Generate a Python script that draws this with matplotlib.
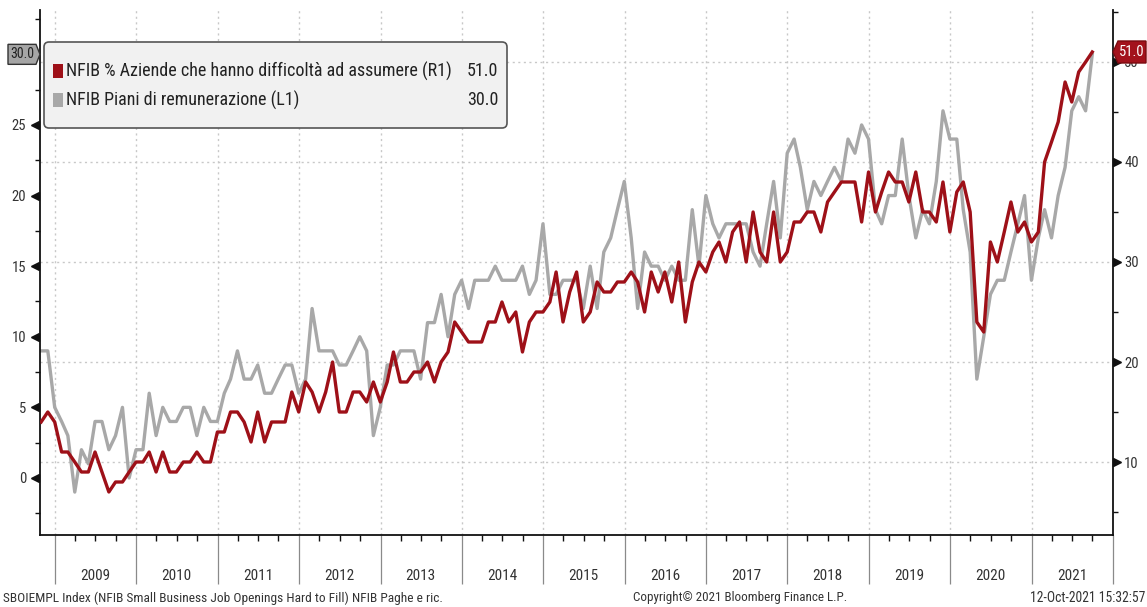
import matplotlib
matplotlib.use("Agg")
import matplotlib.pyplot as plt
import matplotlib.dates as mdates
from matplotlib import font_manager as fm
from matplotlib.patches import FancyBboxPatch, Polygon, Rectangle
from matplotlib.transforms import blended_transform_factory, IdentityTransform
import numpy as np
import pandas as pd

# ---------------- data ----------------
first_month = "2008-10-31"
# NFIB % aziende con posti difficili da coprire (asse destro, R1)
hiring_difficulty = [
    14, 15, 14, 11, 11, 10, 9, 9, 11, 9, 7, 8, 8, 9, 10, 10, 11, 9, 11, 9,
    9, 10, 10, 11, 10, 10, 13, 13, 15, 15, 14, 12, 15, 12, 14, 14, 14, 17, 15, 18,
    17, 15, 17, 20, 15, 15, 17, 17, 16, 18, 16, 18, 21, 18, 18,
    19, 19, 20, 18, 20, 21, 24, 23, 22, 22, 22, 24, 24, 26, 24, 25, 21, 24, 25, 25,
    26, 29, 24, 27, 29, 24, 25, 28, 27, 27, 28, 28, 29, 28, 25, 29, 27, 29, 26, 30,
    24, 28, 30, 29, 31, 32, 30, 33, 34, 30, 35, 31, 30, 35, 30,
    31, 34, 34, 35, 35, 33, 36, 37, 38, 38, 38, 34, 39, 35, 37, 39, 38, 38, 36, 39,
    35, 35, 34, 38, 33, 37, 38, 35, 24, 23, 32, 30, 33, 36, 33, 34, 32, 33, 40, 42,
    44, 48, 46, 49, 50, 51,
]
# NFIB piani di remunerazione (asse sinistro, L1)
comp_plans = [
    9, 9, 5, 4, 3, -1, 2, 1, 4, 4, 2, 3, 5, 0, 2, 2, 6, 3, 5, 4,
    4, 5, 5, 3, 5, 4, 4, 6, 7, 9, 7, 7, 8, 6, 6, 7, 8, 8, 6, 7,
    12, 9, 9, 9, 8, 8, 9, 10, 9, 3, 5, 8, 8, 9, 9,
    9, 7, 11, 11, 13, 10, 13, 14, 12, 14, 14, 14, 15, 14, 14, 14, 15, 13, 14, 18, 13,
    13, 14, 14, 14, 12, 15, 12, 16, 17, 19, 21,
    17, 12, 16, 15, 15, 14, 15, 14, 14, 19, 15, 20, 18, 17, 18, 18, 18, 18, 16, 15, 18,
    21, 17, 23, 24, 22, 19, 21, 20, 21, 22, 21, 24, 23, 25, 24, 19, 18, 20, 20, 24,
    20, 17, 19, 18, 21, 26, 24, 24, 19, 16, 7, 10, 13, 14, 14, 16, 18, 20, 14, 17,
    19, 17, 20, 22, 26, 27, 26, 30,
]
years = list(range(2009, 2022))
left_ticks = [0, 5, 10, 15, 20, 25]
right_ticks = [10, 20, 30, 40, 50]
legend_labels = ["NFIB % Aziende che hanno difficoltà ad assumere (R1)",
                 "NFIB Piani di remunerazione (L1)"]
footer_left = "SBOIEMPL Index (NFIB Small Business Job Openings Hard to Fill) NFIB Paghe e ric."
footer_mid = "Copyright\u00a9 2021 Bloomberg Finance L.P."
footer_right = "12-Oct-2021 15:32:57"

RED = "#9e1018"
GRAY = "#a8a8a8"

# ---------------- fonts ----------------
avail = {f.name for f in fm.fontManager.ttflist}
narrow = next((f for f in ["Liberation Sans Narrow", "Roboto Condensed",
                           "Open Sans Condensed", "DejaVu Sans"] if f in avail), "DejaVu Sans")
plt.rcParams["font.family"] = [narrow, "DejaVu Sans"]

# ---------------- figure ----------------
W, H = 1147, 607
fig = plt.figure(figsize=(W / 100, H / 100), dpi=100, facecolor="white")
PL, PR, PB, PT = 40, 1113, 535, 10
ax = fig.add_axes([PL / W, 1 - PB / H, (PR - PL) / W, (PB - PT) / H])
ax2 = ax.twinx()

dates = pd.date_range(first_month, periods=len(comp_plans), freq="ME")
xd = mdates.date2num(dates)

grid_kw = dict(color="#c8c8c8", lw=1.0, ls=(0, (1.5, 2.5)), zorder=0.5)
for yr in years:
    ax.axvline(mdates.date2num(pd.Timestamp(f"{yr}-01-01")), **grid_kw)
htrans = blended_transform_factory(ax.transAxes, ax2.transData)
for r in right_ticks:
    ax.plot([0, 1], [r, r], transform=htrans, **grid_kw)

ax.plot(xd, comp_plans, color=GRAY, lw=2.4, zorder=2)
ax2.plot(xd, hiring_difficulty, color=RED, lw=2.4, zorder=2)

ax.set_xlim(mdates.date2num(pd.Timestamp("2008-10-26")), mdates.date2num(pd.Timestamp("2022-01-01")))
ax.set_ylim(-4.04, 33.14)
ax2.set_ylim(2.7, 55.2)

# spines
for s in ["top", "right"]:
    ax.spines[s].set_visible(False)
for s in ["top", "left", "bottom"]:
    ax2.spines[s].set_visible(False)
for sp in [ax.spines["left"], ax.spines["bottom"], ax2.spines["right"]]:
    sp.set_color("#111111")
    sp.set_linewidth(1.3)

# y ticks
tick_font = 10.5
ax.set_yticks(left_ticks)
ax.set_yticks(np.arange(-2.5, 33, 5), minor=True)
ax.tick_params(axis="y", which="major", length=0, pad=10, labelsize=tick_font, labelcolor="#333333")
ax.tick_params(axis="y", which="minor", length=3.5, width=1, color="#111111", direction="out")
ax2.set_yticks(right_ticks)
ax2.set_yticks(np.arange(5, 56, 10), minor=True)
ax2.tick_params(axis="y", which="major", length=0, pad=8, labelsize=tick_font, labelcolor="#333333")
ax2.tick_params(axis="y", which="minor", length=3.5, width=1, color="#111111", direction="out")

ltr = blended_transform_factory(ax.transAxes, ax.transData)
ax.plot([-5.0 / (PR - PL)] * len(left_ticks), left_ticks, ls="none", marker="<", ms=5.5,
        color="#111111", transform=ltr, clip_on=False)
rtr = blended_transform_factory(ax2.transAxes, ax2.transData)
ax2.plot([1 + 4.0 / (PR - PL)] * len(right_ticks), right_ticks, ls="none", marker=">", ms=5.5,
         color="#111111", transform=rtr, clip_on=False)

# x ticks: year separators + quarterly ticks
year_starts = [mdates.date2num(pd.Timestamp(f"{y}-01-01")) for y in years + [years[-1] + 1]]
quarters = [mdates.date2num(pd.Timestamp(f"{y}-{m:02d}-01")) for y in years for m in (4, 7, 10)]
ax.set_xticks(year_starts)
ax.set_xticklabels([])
ax.set_xticks(quarters, minor=True)
ax.tick_params(axis="x", which="major", length=35, width=0.9, color="#8a8a8a", direction="out")
ax.tick_params(axis="x", which="minor", length=4.5, width=1, color="#111111", direction="out")
xtr = blended_transform_factory(ax.transData, ax.transAxes)
for y in years:
    xm = mdates.date2num(pd.Timestamp(f"{y}-07-01"))
    ax.text(xm, -(576 - PB) / (PB - PT), str(y), transform=xtr, ha="center", va="center",
            fontsize=11, color="#333333")

# footer
fig.text(3 / W, 1 - 598 / H, footer_left, ha="left", va="center", fontsize=9.6, color="#333333")
fig.text(633 / W, 1 - 598 / H, footer_mid, ha="left", va="center", fontsize=9.4, color="#333333")
fig.text(1145 / W, 1 - 598 / H, footer_right, ha="right", va="center", fontsize=9.8, color="#333333")

# ---------------- legend ----------------
I = IdentityTransform()
def P(x, y_top):
    return (x, H - y_top)

leg = FancyBboxPatch(P(44, 128), 463, 86, boxstyle="round,pad=0,rounding_size=5",
                     transform=I, facecolor="#f1f1f1", edgecolor="#555555", lw=1.2, zorder=20)
fig.add_artist(leg)
rows = [(legend_labels[0], RED, hiring_difficulty[-1], 71),
        (legend_labels[1], GRAY, comp_plans[-1], 100)]
for label, col, val, yc in rows:
    fig.add_artist(Rectangle(P(53, yc + 7), 10, 14, transform=I, facecolor=col,
                             edgecolor="none", zorder=21))
    fig.text(66, H - yc, label, transform=I, ha="left", va="center", fontsize=13,
             color="#222222", zorder=22)
    fig.text(498, H - yc, f"{val:.1f}", transform=I, ha="right", va="center", fontsize=13,
             color="#222222", zorder=22)

# ---------------- last value boxes ----------------
fig.canvas.draw()
yl = ax.transData.transform((0, comp_plans[-1]))[1]
poly_l = Polygon([(8, yl - 10), (36, yl - 10), (40, yl), (36, yl + 10), (8, yl + 10)],
                 closed=True, transform=I, facecolor="#a5a5a5", edgecolor="#333333",
                 lw=1, zorder=20)
fig.add_artist(poly_l)
fig.text(22, yl, f"{comp_plans[-1]:.1f}", transform=I, ha="center", va="center",
         fontsize=10, color="#222222", zorder=21)

yr_ = ax2.transData.transform((0, hiring_difficulty[-1]))[1]
poly_r = Polygon([(1113, yr_), (1118, yr_ + 11), (1146, yr_ + 11), (1146, yr_ - 11), (1118, yr_ - 11)],
                 closed=True, transform=I, facecolor="#a3121c", edgecolor="#7a0a10",
                 lw=1, zorder=20)
fig.add_artist(poly_r)
fig.text(1132, yr_, f"{hiring_difficulty[-1]:.1f}", transform=I, ha="center", va="center",
         fontsize=10.5, color="white", zorder=21)

fig.savefig("out.png", dpi=100, facecolor="white")
